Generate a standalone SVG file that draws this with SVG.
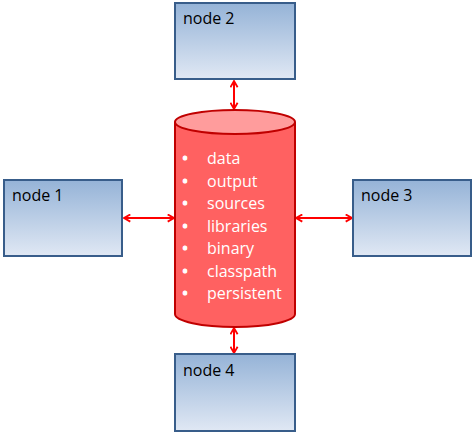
<svg xmlns="http://www.w3.org/2000/svg" width="472" height="433" viewBox="0 0 472 433">
<defs>
<linearGradient id="g" x1="0" y1="0" x2="0" y2="1">
<stop offset="0" stop-color="#95b3d7"/>
<stop offset="1" stop-color="#e0e8f4"/>
</linearGradient>
<marker id="a" viewBox="0 0 10 10" refX="9" refY="5" markerWidth="9" markerHeight="9" orient="auto-start-reverse" markerUnits="userSpaceOnUse">
<path d="M2,1 L9,5 L2,9" fill="none" stroke="#ff0000" stroke-width="2"/>
</marker>
<style>
.n{fill:url(#g);stroke:#385d8a;stroke-width:2}
.t{font-family:"Open Sans","Liberation Sans",sans-serif;font-size:16px;fill:#000}
.w{font-family:"Open Sans","Liberation Sans",sans-serif;font-size:16px;fill:#fff}
.b{stroke:#fff;stroke-width:1.2}
.c{stroke:#ff0000;stroke-width:2;fill:none;marker-start:url(#a);marker-end:url(#a)}
</style>
</defs>
<g id="connectors">
<line class="c" x1="234" y1="81" x2="234" y2="109"/>
<line class="c" x1="234" y1="328" x2="234" y2="353"/>
<line class="c" x1="124" y1="218" x2="174" y2="218"/>
<line class="c" x1="296" y1="218" x2="352" y2="218"/>
</g>
<g id="node2"><rect class="n" x="175" y="3" width="120" height="76"/><text class="t" x="183" y="24">node 2</text></g>
<g id="node1"><rect class="n" x="4" y="180" width="118" height="76"/><text class="t" x="12" y="201">node 1</text></g>
<g id="node3"><rect class="n" x="353" y="180" width="118" height="76"/><text class="t" x="361" y="201">node 3</text></g>
<g id="node4"><rect class="n" x="175" y="354" width="120" height="77"/><text class="t" x="183" y="376">node 4</text></g>
<g id="storage">
<path d="M175,122 L175,314 A60,13 0 0 0 295,314 L295,122" fill="#ff6161" stroke="#c00000" stroke-width="2"/>
<ellipse cx="235" cy="122" rx="60" ry="12" fill="#ff9c9c" stroke="#c00000" stroke-width="2"/>
<g class="w">
<text class="b" x="182" y="164">•</text><text x="207" y="164">data</text>
<text class="b" x="182" y="187">•</text><text x="207" y="187">output</text>
<text class="b" x="182" y="209">•</text><text x="207" y="209">sources</text>
<text class="b" x="182" y="232">•</text><text x="207" y="232">libraries</text>
<text class="b" x="182" y="254">•</text><text x="207" y="254">binary</text>
<text class="b" x="182" y="277">•</text><text x="207" y="277">classpath</text>
<text class="b" x="182" y="299">•</text><text x="207" y="299">persistent</text>
</g>
</g>
</svg>
